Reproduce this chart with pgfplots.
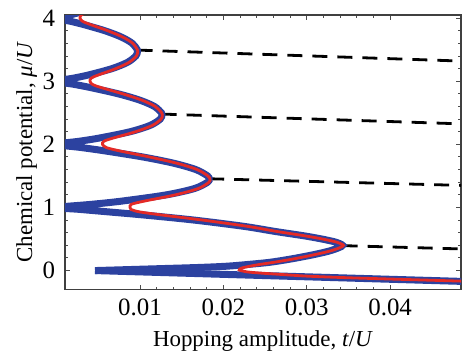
\documentclass[border=0pt]{standalone}
\usepackage{fontspec}
\setmainfont{Liberation Serif}
\usepackage{pgfplots}
\pgfplotsset{compat=1.18}
\definecolor{lobeblue}{RGB}{44,66,160}
\definecolor{fitred}{RGB}{228,42,38}
\begin{document}
\begin{tikzpicture}
\begin{axis}[
  scale only axis, width=198bp, height=137.25bp,
  xmin=0.001, xmax=0.0485, ymin=-0.3, ymax=4.05,
  xtick={0.01,0.02,0.03,0.04},
  ytick={0,1,2,3,4},
  minor x tick num=4, minor y tick num=4,
  scaled x ticks=false,
  /pgf/number format/assume math mode=true,
  xticklabel style={/pgf/number format/fixed, /pgf/number format/precision=2, /pgf/number format/fixed zerofill, yshift=-1bp},
  yticklabel style={xshift=-1.5bp},
  tick align=inside,
  major tick length=2.5bp, minor tick length=1.5bp,
  axis line style={black!75, line width=0.6bp},
  every tick/.style={black!70, line width=0.5bp},
  tick label style={font=\fontsize{12.5}{14}\selectfont},
  label style={font=\fontsize{11.5}{13}\selectfont},
  xlabel={Hopping amplitude, \textit{t}/\textit{U}},
  ylabel={Chemical potential, \textit{μ}/\textit{U}},
  xlabel style={at={([yshift=-28.6bp]axis description cs:0.5,0)}, anchor=base},
  ylabel style={at={([xshift=-16.5bp]axis description cs:0,0.5)}, anchor=base},
]
% dashed lines from the lobe tips
\addplot[black, line width=1.4bp, dash pattern=on 7.5bp off 5bp] coordinates {(0.0097,3.494) (0.0485,3.32)};
\addplot[black, line width=1.4bp, dash pattern=on 7.5bp off 5bp] coordinates {(0.0126,2.48) (0.0485,2.325)};
\addplot[black, line width=1.4bp, dash pattern=on 7.5bp off 5bp] coordinates {(0.0183,1.455) (0.0485,1.35)};
\addplot[black, line width=1.4bp, dash pattern=on 7.5bp off 5bp] coordinates {(0.0343,0.395) (0.0485,0.343)};
% blue lobes
\addplot[lobeblue, line width=3.5bp] coordinates {(0.05,-0.177) (0.035,-0.1185) (0.02,-0.06) (0.0046,0)};
\addplot[lobeblue, line width=3.5bp, smooth, tension=0.5] coordinates {
(0.0046,0) (0.011,0.025) (0.0172,0.05) (0.0205,0.07) (0.0232,0.10) (0.0255,0.13) (0.0275,0.17) (0.0292,0.21) (0.0311,0.26) (0.0327,0.31) (0.0338,0.36) (0.0343,0.40)
(0.0335,0.45) (0.0318,0.5) (0.0297,0.55) (0.0262,0.62) (0.0225,0.7) (0.0165,0.8) (0.0105,0.88) (0.0062,0.93) (0.0027,0.97) (0,1)
(0.004194,1.05) (0.007757,1.1) (0.013164,1.2) (0.016526,1.3) (0.0181,1.4) (0.018285,1.45) (0.0181,1.5) (0.016708,1.6) (0.014078,1.7) (0.010343,1.8) (0.005617,1.9) (0.002914,1.95) (0,2)
(0.002741,2.05) (0.00511,2.1) (0.0088,2.2) (0.0112,2.3) (0.012424,2.4) (0.012634,2.47) (0.012571,2.5) (0.011733,2.6) (0.009989,2.7) (0.00741,2.8) (0.004062,2.9) (0.002117,2.95) (0,3)
(0.002041,3.05) (0.00382,3.1) (0.006629,3.2) (0.008498,3.3) (0.009491,3.4) (0.009697,3.47) (0.009667,3.5) (0.009078,3.6) (0.007774,3.7) (0.0058,3.8) (0.003196,3.9) (0.00167,3.95) (0,4)
(0.0016,4.05) (0.003,4.1)};
% red curve
\addplot[fitred, line width=1.4bp, smooth, tension=0.5] coordinates {
(0.05,-0.173) (0.04,-0.134) (0.035,-0.114) (0.03,-0.088) (0.027,-0.062) (0.0245,-0.04) (0.0228,-0.02) (0.0219,0.01) (0.0222,0.04) (0.0232,0.07) (0.0245,0.10) (0.026,0.13) (0.0278,0.17) (0.0294,0.21) (0.0312,0.26) (0.0328,0.31) (0.0339,0.36) (0.0344,0.40)
(0.0336,0.45) (0.0319,0.5) (0.0298,0.55) (0.0264,0.62) (0.02293,0.7) (0.01751,0.8) (0.01264,0.88) (0.00994,0.93) (0.0089,0.97) (0.0088,1.0)
(0.008958,1.05) (0.010488,1.1) (0.014239,1.2) (0.016981,1.3) (0.018271,1.4) (0.018376,1.45) (0.018139,1.5) (0.016862,1.6) (0.014447,1.7) (0.011128,1.8) (0.007426,1.9) (0.005955,1.95) (0.0055,2.0)
(0.005678,2.05) (0.006781,2.1) (0.009458,2.2) (0.011481,2.3) (0.012531,2.4) (0.012677,2.47) (0.012596,2.5) (0.011833,2.6) (0.010234,2.7) (0.007945,2.8) (0.005335,2.9) (0.004294,2.95) (0.0040,3.0)
(0.004148,3.05) (0.005004,3.1) (0.007087,3.2) (0.008691,3.3) (0.009563,3.4) (0.009725,3.47) (0.009684,3.5) (0.009144,3.6) (0.007933,3.7) (0.006144,3.8) (0.004016,3.9) (0.003108,3.95) (0.0028,4.0) (0.002948,4.05) (0.0037,4.1)};
\end{axis}
\pgfresetboundingbox
\path ([xshift=-32.5bp,yshift=-32.75bp]current axis.south west) rectangle ([xshift=0.5bp,yshift=7.5bp]current axis.north east);
\end{tikzpicture}
\end{document}
